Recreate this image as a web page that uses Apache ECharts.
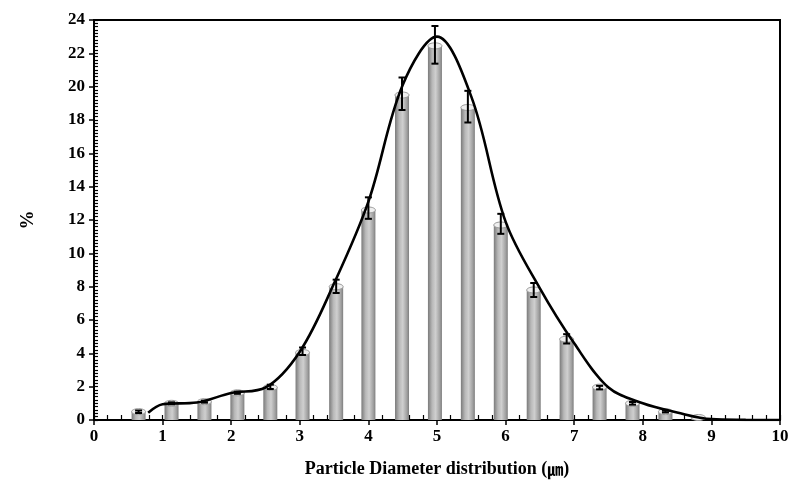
<!DOCTYPE html>
<html>
<head>
<meta charset="utf-8">
<script src="https://cdn.jsdelivr.net/npm/echarts@6/dist/echarts.min.js"></script>
<style>html,body{margin:0;padding:0;background:#fff;}#c{width:803px;height:492px;}</style>
</head>
<body>
<div id="c"></div>
<script>
// Bar positions (µm) and values (%)
const barX = [0.65, 1.13, 1.61, 2.09, 2.57, 3.04, 3.53, 4.00, 4.49, 4.97, 5.45, 5.93, 6.41, 6.89, 7.37, 7.85, 8.33, 8.81];
const barY = [0.50, 1.00, 1.10, 1.63, 1.95, 4.05, 8.00, 12.6, 19.5, 22.45, 18.75, 11.7, 7.80, 4.85, 1.97, 1.00, 0.50, 0.15];
// Error bar bounds
const errLow  = [0.42, 0.94, 1.04, 1.57, 1.86, 3.90, 7.62, 12.07, 18.6, 21.38, 17.85, 11.17, 7.38, 4.59, 1.84, 0.92, 0.45, null];
const errHigh = [0.57, 1.06, 1.16, 1.70, 2.12, 4.35, 8.42, 13.36, 20.55, 23.64, 19.75, 12.37, 8.22, 5.15, 2.05, 1.08, 0.56, null];
// Fitted curve
const curveX = [0.79, 1.0, 1.5, 2.0, 2.5, 3.0, 3.5, 4.0, 4.5, 5.0, 5.5, 6.0, 6.5, 7.0, 7.5, 8.0, 8.5, 9.0, 9.5, 10.0];
const curveY = [0.44, 0.95, 1.05, 1.62, 1.95, 4.1, 8.2, 13.1, 20.1, 23.0, 19.4, 11.9, 7.9, 4.6, 1.95, 1.0, 0.45, 0.05, 0.01, 0.0];
// Axes
const xTicks = [0, 1, 2, 3, 4, 5, 6, 7, 8, 9, 10];
const yTicks = [0, 2, 4, 6, 8, 10, 12, 14, 16, 18, 20, 22, 24];

const FONT = '"Liberation Serif", "Times New Roman", serif';
const chart = echarts.init(document.getElementById('c'));

const barData = barX.map((x, i) => [x, barY[i]]);
const errData = barX.map((x, i) => [x, errLow[i], errHigh[i]]).filter(d => d[1] != null);
const curveData = curveX.map((x, i) => [x, curveY[i]]);

const gridRect = { left: 94, right: 23, top: 20, bottom: 72 };
const xMin = xTicks[0], xMax = xTicks[xTicks.length - 1];
const yMin = yTicks[0], yMax = yTicks[yTicks.length - 1];
const hiddenLabel = { show: true, inside: true, color: 'rgba(0,0,0,0)', fontSize: 8 };

chart.setOption({
  animation: false,
  backgroundColor: '#fff',
  grid: [
    Object.assign({ show: false }, gridRect),
    Object.assign({ show: true, borderColor: '#000', borderWidth: 2 }, gridRect)
  ],
  xAxis: [
    {
      type: 'value', gridIndex: 0, min: xMin, max: xMax, interval: 1, position: 'bottom',
      axisLine: { show: true, lineStyle: { color: '#000', width: 2 } },
      splitLine: { show: false },
      axisTick: { show: true, inside: true, length: 5, lineStyle: { color: '#000', width: 1.2 } },
      minorTick: { show: true, splitNumber: 5, length: 5, lineStyle: { color: '#000', width: 1.2 } },
      axisLabel: hiddenLabel
    },
    {
      type: 'value', gridIndex: 1, min: xMin, max: xMax, interval: 1,
      axisLine: { show: true, lineStyle: { color: '#000', width: 2 } },
      splitLine: { show: false },
      axisTick: { show: true, length: 5, lineStyle: { color: '#000', width: 1.5 } },
      axisLabel: { color: '#000', fontFamily: FONT, fontWeight: 'bold', fontSize: 17, margin: 8 },
      name: 'Particle Diameter distribution ({u|\u339b})',
      nameLocation: 'middle', nameGap: 40,
      nameTextStyle: {
        color: '#000', fontFamily: FONT, fontWeight: 'bold', fontSize: 18,
        rich: { u: { fontFamily: '"Noto Sans CJK JP"', fontSize: 16, fontWeight: 'bold', color: '#000' } }
      }
    }
  ],
  yAxis: [
    {
      type: 'value', gridIndex: 0, min: yMin, max: yMax, interval: 2, position: 'left',
      axisLine: { show: true, lineStyle: { color: '#000', width: 2 } },
      splitLine: { show: false },
      axisTick: { show: true, inside: true, length: 4, lineStyle: { color: '#000', width: 1.2 } },
      minorTick: { show: true, splitNumber: 10, length: 4, lineStyle: { color: '#000', width: 1.2 } },
      axisLabel: hiddenLabel
    },
    {
      type: 'value', gridIndex: 1, min: yMin, max: yMax, interval: 2,
      axisLine: { show: true, lineStyle: { color: '#000', width: 2 } },
      splitLine: { show: false },
      axisTick: { show: true, length: 5, lineStyle: { color: '#000', width: 1.5 } },
      axisLabel: { color: '#000', fontFamily: FONT, fontWeight: 'bold', fontSize: 17, margin: 9 },
      name: '%', nameLocation: 'middle', nameGap: 56, nameRotate: 90,
      nameTextStyle: { color: '#000', fontFamily: FONT, fontWeight: 'bold', fontSize: 19 }
    }
  ],
  series: [
    {
      type: 'scatter',
      name: 'tickCarrier',
      xAxisIndex: 0, yAxisIndex: 0,
      data: barData,
      symbolSize: 0,
      silent: true,
      itemStyle: { opacity: 0 }
    },
    {
      type: 'custom',
      name: 'bars',
      xAxisIndex: 1, yAxisIndex: 1,
      data: barData,
      z: 2,
      renderItem: function (params, api) {
        const top = api.coord([api.value(0), api.value(1)]);
        const base = api.coord([api.value(0), 0]);
        const w = 14, hw = w / 2;
        const grad = new echarts.graphic.LinearGradient(0, 0, 1, 0, [
          { offset: 0, color: '#7a7a7a' },
          { offset: 0.3, color: '#b8b8b8' },
          { offset: 0.55, color: '#cfcfcf' },
          { offset: 0.85, color: '#a0a0a0' },
          { offset: 1, color: '#7e7e7e' }
        ]);
        return {
          type: 'group',
          children: [
            { type: 'rect', shape: { x: top[0] - hw, y: top[1], width: w, height: Math.max(0, base[1] - top[1]) }, style: { fill: grad } },
            { type: 'ellipse', shape: { cx: top[0], cy: top[1], rx: hw, ry: 3 }, style: { fill: '#efefef', stroke: '#999', lineWidth: 1 } }
          ]
        };
      }
    },
    {
      type: 'line',
      name: 'curve',
      xAxisIndex: 1, yAxisIndex: 1,
      data: curveData,
      smooth: 0.35,
      showSymbol: false,
      z: 3,
      lineStyle: { color: '#000', width: 2.6 }
    },
    {
      type: 'custom',
      name: 'error',
      xAxisIndex: 1, yAxisIndex: 1,
      data: errData,
      z: 4,
      renderItem: function (params, api) {
        const x = api.value(0);
        const lo = api.coord([x, api.value(1)]);
        const hi = api.coord([x, api.value(2)]);
        const c = 3.5;
        const st = { stroke: '#000', lineWidth: 2 };
        return {
          type: 'group',
          children: [
            { type: 'line', shape: { x1: lo[0], y1: lo[1], x2: hi[0], y2: hi[1] }, style: st },
            { type: 'line', shape: { x1: lo[0] - c, y1: lo[1], x2: lo[0] + c, y2: lo[1] }, style: st },
            { type: 'line', shape: { x1: hi[0] - c, y1: hi[1], x2: hi[0] + c, y2: hi[1] }, style: st }
          ]
        };
      }
    }
  ]
});
</script>
</body>
</html>
